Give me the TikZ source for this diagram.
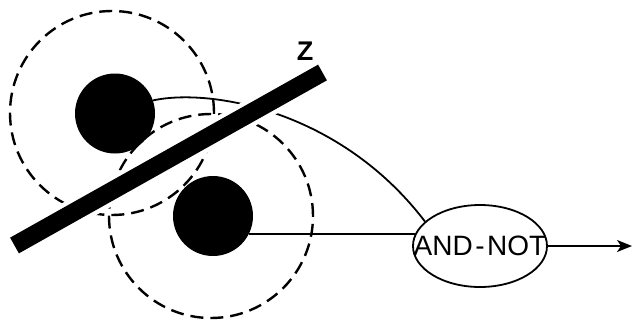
\documentclass[tikz,border=0pt]{standalone}
\usepackage{fontspec}
\setmainfont{Liberation Sans}
\usetikzlibrary{shapes.geometric,arrows.meta}
\begin{document}
\begin{tikzpicture}[x=1pt,y=-1pt,
  field/.style={circle,draw,dash pattern=on 13pt off 7pt,line width=2.4pt,inner sep=0pt},
  dot/.style={circle,fill=black,inner sep=0pt,minimum size=80pt},
  wire/.style={line width=1.8pt},
  gatebox/.style={ellipse,draw,line width=1.8pt,inner sep=0pt,minimum width=134pt,minimum height=82pt,font=\fontsize{28}{28}\selectfont}
]
\useasboundingbox (0,0) rectangle (633,325);
\node[field,minimum size=204pt] (r1) at (112,113) {};
\node[field,minimum size=204pt] (r2) at (211,216) {};
\node[dot] (d1) at (115,113.5) {};
\node[dot] (d2) at (213,216) {};
\node[gatebox] (gate) at (480,246) {\makebox[0pt]{AND\kern2.5pt-\kern2.5pt NOT}};
\coordinate (out) at (632,246);
\coordinate (barA) at (14.5,245.5);
\coordinate (barB) at (322.5,72.5);
\node[font=\bfseries\fontsize{27}{27}\selectfont,inner sep=0pt] (zlab) at (305,51.5) {Z};
\draw[wire] (d1.19) .. controls (210,88) and (340,110) .. (gate.156);
\draw[wire] (d2.-27) -- (d2.-27 -| gate.169);
\draw[wire,-{Stealth[length=15pt,width=12pt,inset=4pt]}] (gate.east) -- (out);
\draw[white,line width=27pt] (barA) -- (barB);
\draw[black,line width=18pt] (barA) -- (barB);
\end{tikzpicture}
\end{document}
